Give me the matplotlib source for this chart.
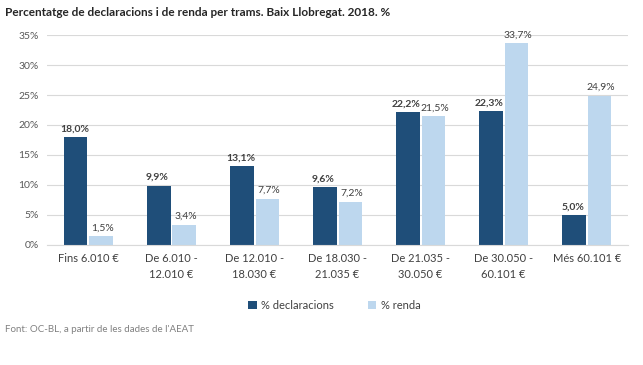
import matplotlib.pyplot as plt
import numpy as np

categories = ["Fins 6.010 €", "De 6.010 -\n12.010 €", "De 12.010 -\n18.030 €",
              "De 18.030 -\n21.035 €", "De 21.035 -\n30.050 €", "De 30.050 -\n60.101 €",
              "Més 60.101 €"]
declaracions = [18.0, 9.9, 13.1, 9.6, 22.2, 22.3, 5.0]
renda = [1.5, 3.4, 7.7, 7.2, 21.5, 33.7, 24.9]
yticks = [0, 5, 10, 15, 20, 25, 30, 35]

dark = "#1F4E79"
light = "#BDD7EE"
plt.rcParams['font.family'] = ['Lato', 'DejaVu Sans']

fig = plt.figure(figsize=(6.43, 3.65), dpi=100)
ax = fig.add_axes([0.073, 0.329, 0.904, 0.575])

x = np.arange(len(categories))
w = 0.28
b1 = ax.bar(x - w / 2 - 0.012, declaracions, w, color=dark, label="% declaracions")
b2 = ax.bar(x + w / 2 + 0.012, renda, w, color=light, label="% renda")

# etiquetes de valor amb coma decimal
for xi, v in zip(x, declaracions):
    ax.text(xi - w / 2 - 0.03, v + 0.6, f"{v:.1f}%".replace(".", ","), ha="center", va="bottom",
            fontsize=7.5, fontweight="bold", color="#404040")
for xi, v in zip(x, renda):
    ax.text(xi + w / 2 + 0.03, v + 0.6, f"{v:.1f}%".replace(".", ","), ha="center", va="bottom",
            fontsize=7.5, color="#404040")

ax.set_xlim(-0.5, len(categories) - 0.5)
ax.set_ylim(0, 35)
ax.set_yticks(yticks)
ax.set_yticklabels([f"{t}%" for t in yticks], fontsize=7.5, color="#595959")
ax.set_xticks(x)
ax.set_xticklabels(categories, fontsize=8, color="#404040", linespacing=1.5)
ax.tick_params(length=0, pad=6)
ax.grid(axis="y", color="#D9D9D9", linewidth=0.8)
ax.set_axisbelow(True)
for s in ["top", "right", "left"]:
    ax.spines[s].set_visible(False)
ax.spines["bottom"].set_color("#D9D9D9")

fig.legend(handles=[b1, b2], loc="center", bbox_to_anchor=(0.52, 0.163), ncol=2, frameon=False,
           fontsize=8, handlelength=0.8, handleheight=0.8, columnspacing=3, handletextpad=0.4,
           labelcolor="#404040")

fig.text(0.008, 0.967, "Percentatge de declaracions i de renda per trams. Baix Llobregat. 2018. %",
         fontsize=8.5, fontweight="bold", va="center", color="#262626")
fig.text(0.008, 0.096, "Font: OC-BL, a partir de les dades de l'AEAT", fontsize=7,
         color="#808080", va="center")

fig.savefig("out.png", dpi=100)
